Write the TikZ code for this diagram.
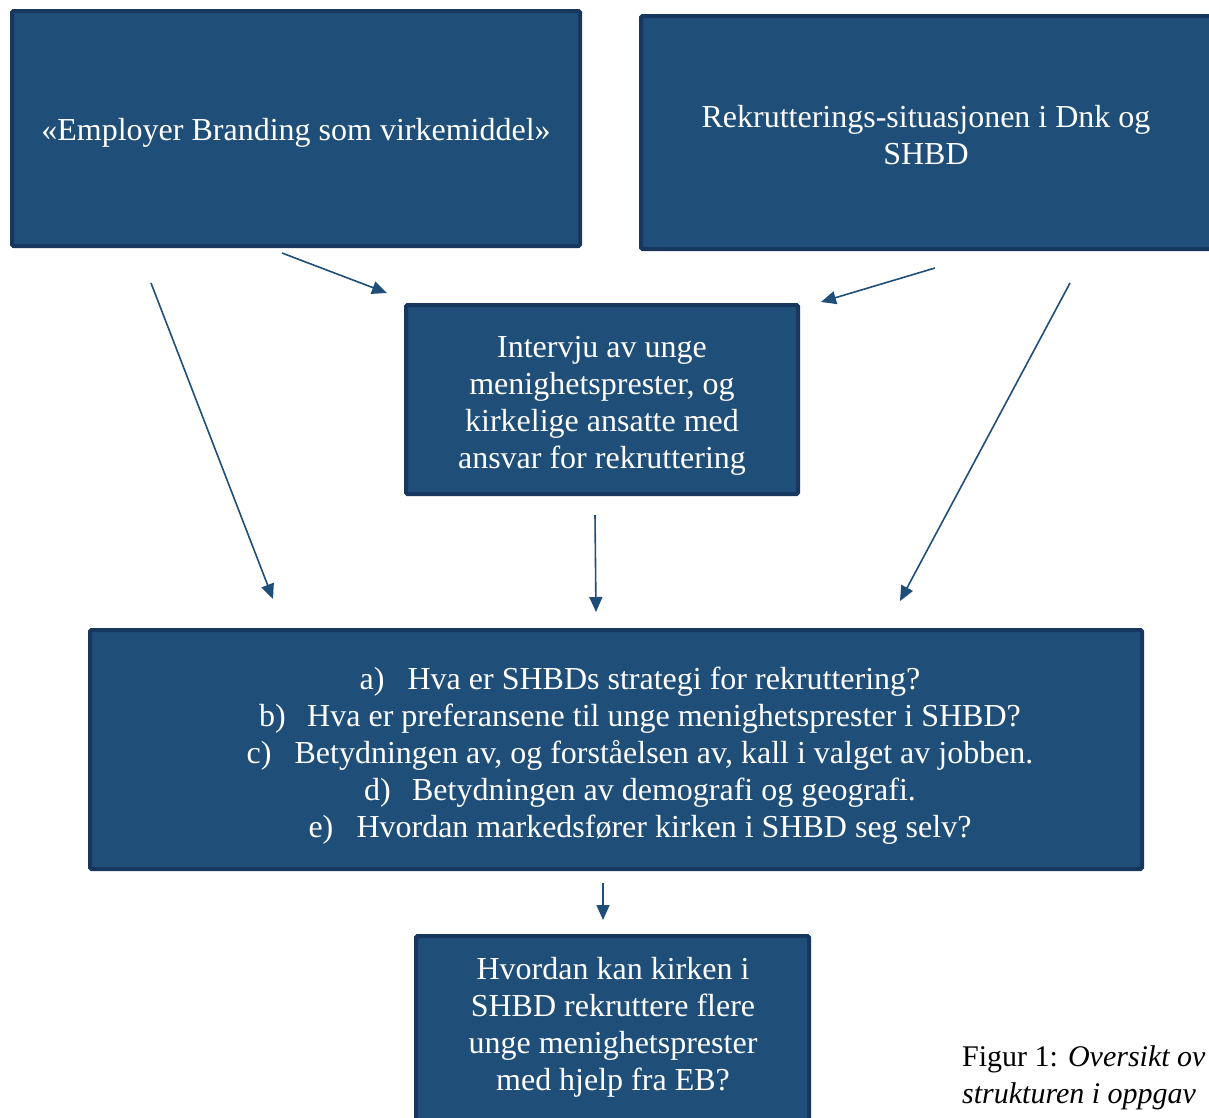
\documentclass[tikz,border=0pt]{standalone}
\usepackage{fontspec}
\setmainfont{Liberation Serif}
\usetikzlibrary{arrows.meta}
\definecolor{boxfill}{HTML}{1F4E79}
\definecolor{boxline}{HTML}{17375E}
\tikzset{
  bluebox/.style={draw=boxline, fill=boxfill, line width=4pt, rounded corners=1.5pt, inner sep=0pt},
  boxtext/.style={text=white, align=center, font=\fontsize{32}{37}\selectfont, inner sep=0pt},
  flow/.style={draw=boxfill, line width=1.6pt, -{Triangle[length=15pt,width=13pt]}},
}
\newcommand{\lbl}[1]{\makebox[48pt][l]{#1}}
\begin{document}
\begin{tikzpicture}[x=1pt,y=-1pt]
\useasboundingbox (0,0) rectangle (1209,1117);
\clip (0,0) rectangle (1209,1117);
% boxes
\node[bluebox, minimum width=568pt, minimum height=235pt] (A) at (296,128.5) {};
\node[boxtext] (At) at (296,133) {«Employer Branding som virkemiddel»};
\node[bluebox, minimum width=580pt, minimum height=233pt] (B) at (931,132.5) {};
\node[boxtext] (Bt) at (926,135) {Rekrutterings-situasjonen i Dnk og\\SHBD};
\node[bluebox, minimum width=392pt, minimum height=189pt] (C) at (602,399.5) {};
\node[boxtext] (Ct) at (602,406) {Intervju av unge\\menighetsprester, og\\kirkelige ansatte med\\ansvar for rekruttering};
\node[bluebox, minimum width=1052pt, minimum height=239pt] (D) at (616,749.5) {};
\node[boxtext] (Dt) at (640,756) {\lbl{a)}Hva er SHBDs strategi for rekruttering?\\
\lbl{b)}Hva er preferansene til unge menighetsprester i SHBD?\\
\lbl{c)}Betydningen av, og forståelsen av, kall i valget av jobben.\\
\lbl{d)}Betydningen av demografi og geografi.\\
\lbl{e)}Hvordan markedsfører kirken i SHBD seg selv?};
\node[bluebox, minimum width=393pt, minimum height=240pt, anchor=north] (E) at (612.5,934) {};
\node[boxtext] (Et) at (613,1027) {Hvordan kan kirken i\\SHBD rekruttere flere\\unge menighetsprester\\med hjelp fra EB?};
% caption
\node[anchor=west, align=left, inner sep=0pt, font=\fontsize{30}{37}\selectfont] (cap) at (962,1078) {Figur 1: \textit{Oversikt ov}\\\textit{strukturen i oppgav}};
% arrow ends
\coordinate (a1s) at (282,253); \coordinate (a1e) at (387,293);
\coordinate (a2s) at (935,268); \coordinate (a2e) at (821,302);
\coordinate (a3s) at (151,283); \coordinate (a3e) at (273,599);
\coordinate (a4s) at (1070,283); \coordinate (a4e) at (900,601);
\coordinate (a5s) at (595,515); \coordinate (a5e) at (596,612);
\coordinate (a6s) at (603,883); \coordinate (a6e) at (603,920);
\draw[flow] (a1s) -- (a1e);
\draw[flow] (a2s) -- (a2e);
\draw[flow] (a3s) -- (a3e);
\draw[flow] (a4s) -- (a4e);
\draw[flow] (a5s) -- (a5e);
\draw[flow] (a6s) -- (a6e);
\end{tikzpicture}
\end{document}
